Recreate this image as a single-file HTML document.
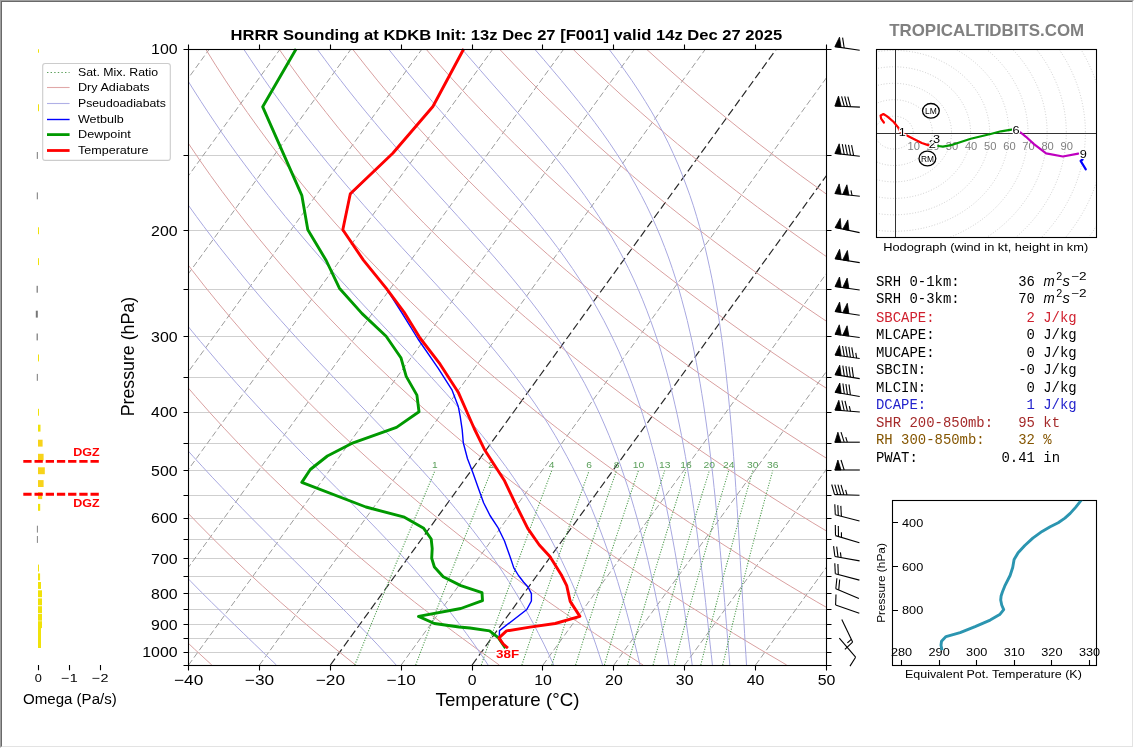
<!DOCTYPE html>
<html><head><meta charset="utf-8"><style>
html,body{margin:0;padding:0;background:#fff;}
#wrap{position:relative;width:1134px;height:748px;overflow:hidden;}
#b1{position:absolute;left:0;top:0;width:1132px;height:746px;border-style:solid;border-width:1px;border-color:#a0a0a0 #ffffff #ffffff #a0a0a0;}
#b2{position:absolute;left:1px;top:1px;width:1130px;height:744px;border-style:solid;border-width:1px;border-color:#696969 #e3e3e3 #e3e3e3 #696969;}
</style></head><body><div id="wrap"><div id="b1"></div><div id="b2"></div>
<svg width="1134" height="748" viewBox="0 0 1134 748" style="position:absolute;left:0;top:0;will-change:transform">
<defs><clipPath id="cm"><rect x="188.6" y="49.3" width="637.9" height="615.7"/></clipPath>
<clipPath id="ch"><rect x="876.3" y="49.5" width="220.3" height="187.7"/></clipPath>
<clipPath id="co"><rect x="0" y="49.3" width="180" height="615.7"/></clipPath><clipPath id="ct"><rect x="892.3" y="500.7" width="204.3" height="164.4"/></clipPath></defs>
<g clip-path="url(#cm)" fill="none">
<path d="M188.6 49.5H826.5M188.6 155.5H826.5M188.6 230.5H826.5M188.6 289.5H826.5M188.6 336.5H826.5M188.6 377.5H826.5M188.6 412.5H826.5M188.6 443.5H826.5M188.6 470.5H826.5M188.6 495.5H826.5M188.6 518.5H826.5M188.6 539.5H826.5M188.6 558.5H826.5M188.6 576.5H826.5M188.6 593.5H826.5M188.6 609.5H826.5M188.6 624.5H826.5M188.6 638.5H826.5M188.6 652.5H826.5M188.6 665.5H826.5" stroke="#cfcfcf" stroke-width="1"/>
<path d="M-520.2 665L-74.3 49.3M-449.3 665L-3.5 49.3M-378.4 665L67.4 49.3M-307.5 665L138.3 49.3M-236.7 665L209.2 49.3M-165.8 665L280 49.3M-94.9 665L350.9 49.3M-24 665L421.8 49.3M46.8 665L492.7 49.3M117.7 665L563.6 49.3M188.6 665L634.4 49.3M259.5 665L705.3 49.3M401.2 665L847.1 49.3M543 665L988.8 49.3M613.9 665L1059.7 49.3M684.7 665L1130.6 49.3M755.6 665L1201.5 49.3M826.5 665L1272.3 49.3" stroke="#9c9c9c" stroke-width="1" stroke-dasharray="6.2,2.9"/>
<path d="M330.4 665L776.2 49.3M472.1 665L917.9 49.3" stroke="#2a2a2a" stroke-width="1.2" stroke-dasharray="7.9,3.6"/>
<path d="M211.8 665 L194.6 649.2 L177.9 633.4 L161.8 617.6 L146 601.9 L130.8 586.1 L116 570.3 L101.6 554.5 L87.7 538.7 L74.2 522.9 L61.2 507.1 L48.5 491.3 L36.3 475.6 L24.5 459.8 L13.1 444 L2 428.2 L-8.6 412.4 L-18.9 396.6 L-28.8 380.8 L-38.4 365 L-47.5 349.3 L-56.4 333.5 L-64.9 317.7 L-73 301.9 L-80.8 286.1 L-88.3 270.3 L-95.5 254.5 L-102.3 238.7 L-108.8 223 L-115.1 207.2 L-121 191.4 L-126.6 175.6 L-132 159.8 L-137 144 L-141.8 128.2 L-146.3 112.4 L-150.5 96.7 L-154.5 80.9 L-158.2 65.1 L-161.6 49.3M355.5 665 L335.9 649.2 L316.8 633.4 L298.3 617.6 L280.2 601.9 L262.7 586.1 L245.6 570.3 L229.1 554.5 L213 538.7 L197.4 522.9 L182.2 507.1 L167.5 491.3 L153.2 475.6 L139.4 459.8 L126 444 L113.1 428.2 L100.5 412.4 L88.4 396.6 L76.6 380.8 L65.3 365 L54.3 349.3 L43.8 333.5 L33.6 317.7 L23.8 301.9 L14.3 286.1 L5.2 270.3 L-3.6 254.5 L-12 238.7 L-20.1 223 L-27.8 207.2 L-35.2 191.4 L-42.3 175.6 L-49.1 159.8 L-55.6 144 L-61.7 128.2 L-67.6 112.4 L-73.1 96.7 L-78.4 80.9 L-83.4 65.1 L-88.1 49.3M499.3 665 L477.2 649.2 L455.7 633.4 L434.8 617.6 L414.4 601.9 L394.6 586.1 L375.3 570.3 L356.5 554.5 L338.2 538.7 L320.5 522.9 L303.2 507.1 L286.4 491.3 L270.2 475.6 L254.3 459.8 L239 444 L224.1 428.2 L209.7 412.4 L195.7 396.6 L182.1 380.8 L169 365 L156.2 349.3 L143.9 333.5 L132 317.7 L120.5 301.9 L109.4 286.1 L98.7 270.3 L88.3 254.5 L78.3 238.7 L68.7 223 L59.5 207.2 L50.6 191.4 L42 175.6 L33.8 159.8 L25.9 144 L18.4 128.2 L11.1 112.4 L4.2 96.7 L-2.4 80.9 L-8.7 65.1 L-14.6 49.3M643 665 L618.5 649.2 L594.6 633.4 L571.3 617.6 L548.6 601.9 L526.5 586.1 L504.9 570.3 L483.9 554.5 L463.5 538.7 L443.6 522.9 L424.2 507.1 L405.4 491.3 L387.1 475.6 L369.3 459.8 L352 444 L335.1 428.2 L318.8 412.4 L302.9 396.6 L287.5 380.8 L272.6 365 L258.1 349.3 L244.1 333.5 L230.5 317.7 L217.3 301.9 L204.5 286.1 L192.2 270.3 L180.2 254.5 L168.7 238.7 L157.5 223 L146.7 207.2 L136.3 191.4 L126.3 175.6 L116.7 159.8 L107.4 144 L98.4 128.2 L89.8 112.4 L81.6 96.7 L73.7 80.9 L66.1 65.1 L58.8 49.3M786.7 665 L759.8 649.2 L733.5 633.4 L707.8 617.6 L682.8 601.9 L658.3 586.1 L634.5 570.3 L611.3 554.5 L588.7 538.7 L566.7 522.9 L545.3 507.1 L524.4 491.3 L504 475.6 L484.2 459.8 L464.9 444 L446.2 428.2 L428 412.4 L410.2 396.6 L393 380.8 L376.3 365 L360 349.3 L344.2 333.5 L328.9 317.7 L314 301.9 L299.6 286.1 L285.6 270.3 L272.1 254.5 L259 238.7 L246.3 223 L234 207.2 L222.1 191.4 L210.6 175.6 L199.5 159.8 L188.8 144 L178.5 128.2 L168.5 112.4 L159 96.7 L149.7 80.9 L140.8 65.1 L132.3 49.3M930.5 665 L901.1 649.2 L872.3 633.4 L844.3 617.6 L816.9 601.9 L790.2 586.1 L764.2 570.3 L738.8 554.5 L714 538.7 L689.8 522.9 L666.3 507.1 L643.3 491.3 L620.9 475.6 L599.1 459.8 L577.9 444 L557.2 428.2 L537.1 412.4 L517.5 396.6 L498.5 380.8 L479.9 365 L461.9 349.3 L444.4 333.5 L427.3 317.7 L410.8 301.9 L394.7 286.1 L379.1 270.3 L364 254.5 L349.3 238.7 L335.1 223 L321.3 207.2 L307.9 191.4 L294.9 175.6 L282.4 159.8 L270.3 144 L258.6 128.2 L247.3 112.4 L236.3 96.7 L225.8 80.9 L215.6 65.1 L205.8 49.3M1074.2 665 L1042.4 649.2 L1011.2 633.4 L980.8 617.6 L951.1 601.9 L922.1 586.1 L893.8 570.3 L866.2 554.5 L839.3 538.7 L812.9 522.9 L787.3 507.1 L762.3 491.3 L737.9 475.6 L714.1 459.8 L690.9 444 L668.3 428.2 L646.2 412.4 L624.8 396.6 L603.9 380.8 L583.6 365 L563.8 349.3 L544.5 333.5 L525.8 317.7 L507.6 301.9 L489.8 286.1 L472.6 270.3 L455.9 254.5 L439.6 238.7 L423.8 223 L408.5 207.2 L393.7 191.4 L379.3 175.6 L365.3 159.8 L351.8 144 L338.6 128.2 L326 112.4 L313.7 96.7 L301.8 80.9 L290.3 65.1 L279.2 49.3M1218 665 L1183.7 649.2 L1150.1 633.4 L1117.3 617.6 L1085.3 601.9 L1054 586.1 L1023.5 570.3 L993.6 554.5 L964.5 538.7 L936.1 522.9 L908.3 507.1 L881.2 491.3 L854.8 475.6 L829 459.8 L803.8 444 L779.3 428.2 L755.4 412.4 L732.1 396.6 L709.4 380.8 L687.2 365 L665.7 349.3 L644.7 333.5 L624.2 317.7 L604.3 301.9 L584.9 286.1 L566.1 270.3 L547.8 254.5 L530 238.7 L512.6 223 L495.8 207.2 L479.5 191.4 L463.6 175.6 L448.2 159.8 L433.2 144 L418.7 128.2 L404.7 112.4 L391 96.7 L377.8 80.9 L365.1 65.1 L352.7 49.3M1361.7 665 L1324.9 649.2 L1289 633.4 L1253.8 617.6 L1219.5 601.9 L1185.9 586.1 L1153.1 570.3 L1121.1 554.5 L1089.8 538.7 L1059.2 522.9 L1029.3 507.1 L1000.2 491.3 L971.7 475.6 L943.9 459.8 L916.8 444 L890.4 428.2 L864.5 412.4 L839.4 396.6 L814.8 380.8 L790.9 365 L767.6 349.3 L744.8 333.5 L722.7 317.7 L701.1 301.9 L680.1 286.1 L659.6 270.3 L639.7 254.5 L620.3 238.7 L601.4 223 L583.1 207.2 L565.2 191.4 L547.9 175.6 L531.1 159.8 L514.7 144 L498.8 128.2 L483.4 112.4 L468.4 96.7 L453.9 80.9 L439.8 65.1 L426.2 49.3M1505.5 665 L1466.2 649.2 L1427.9 633.4 L1390.4 617.6 L1353.7 601.9 L1317.8 586.1 L1282.8 570.3 L1248.5 554.5 L1215 538.7 L1182.3 522.9 L1150.3 507.1 L1119.1 491.3 L1088.6 475.6 L1058.9 459.8 L1029.8 444 L1001.4 428.2 L973.7 412.4 L946.7 396.6 L920.3 380.8 L894.5 365 L869.4 349.3 L845 333.5 L821.1 317.7 L797.8 301.9 L775.2 286.1 L753.1 270.3 L731.6 254.5 L710.6 238.7 L690.2 223 L670.3 207.2 L651 191.4 L632.2 175.6 L613.9 159.8 L596.1 144 L578.9 128.2 L562.1 112.4 L545.8 96.7 L529.9 80.9 L514.6 65.1 L499.7 49.3M1649.2 665 L1607.5 649.2 L1566.7 633.4 L1526.9 617.6 L1487.9 601.9 L1449.7 586.1 L1412.4 570.3 L1375.9 554.5 L1340.3 538.7 L1305.4 522.9 L1271.4 507.1 L1238.1 491.3 L1205.6 475.6 L1173.8 459.8 L1142.7 444 L1112.4 428.2 L1082.8 412.4 L1053.9 396.6 L1025.7 380.8 L998.2 365 L971.3 349.3 L945.1 333.5 L919.5 317.7 L894.6 301.9 L870.3 286.1 L846.6 270.3 L823.4 254.5 L800.9 238.7 L779 223 L757.6 207.2 L736.8 191.4 L716.5 175.6 L696.8 159.8 L677.6 144 L658.9 128.2 L640.8 112.4 L623.1 96.7 L606 80.9 L589.3 65.1 L573.1 49.3M1793 665 L1748.8 649.2 L1705.6 633.4 L1663.4 617.6 L1622 601.9 L1581.6 586.1 L1542 570.3 L1503.4 554.5 L1465.5 538.7 L1428.5 522.9 L1392.4 507.1 L1357 491.3 L1322.5 475.6 L1288.7 459.8 L1255.7 444 L1223.5 428.2 L1192 412.4 L1161.2 396.6 L1131.2 380.8 L1101.8 365 L1073.2 349.3 L1045.3 333.5 L1018 317.7 L991.4 301.9 L965.4 286.1 L940 270.3 L915.3 254.5 L891.2 238.7 L867.8 223 L844.9 207.2 L822.6 191.4 L800.8 175.6 L779.7 159.8 L759.1 144 L739 128.2 L719.5 112.4 L700.5 96.7 L682 80.9 L664.1 65.1 L646.6 49.3" stroke="#d9a0a0" stroke-width="1"/>
<path d="M276.4 665 L265.5 654.6 L254.6 644.1 L243.8 633.7 L233 623.3 L222.3 612.8 L211.7 602.4 L201.2 592 L190.9 581.5 L180.6 571.1 L170.6 560.6 L160.7 550.2 L150.9 539.8 L141.3 529.3 L131.9 518.9 L122.7 508.5 L113.6 498 L104.7 487.6 L96 477.2 L87.5 466.7 L79.2 456.3 L71 445.9 L63 435.4 L55.2 425 L47.5 414.5 L40 404.1 L32.7 393.7 L25.6 383.2 L18.6 372.8 L11.8 362.4 L5.1 351.9 L-1.4 341.5 L-7.7 331.1 L-13.9 320.6 L-19.9 310.2 L-25.8 299.8 L-31.5 289.3 L-37.1 278.9 L-42.5 268.4 L-47.8 258 L-52.9 247.6 L-57.9 237.1 L-62.7 226.7 L-67.4 216.3 L-72 205.8 L-76.4 195.4 L-80.7 185 L-84.9 174.5 L-88.9 164.1 L-92.8 153.7 L-96.5 143.2 L-100.2 132.8 L-103.7 122.3 L-107.1 111.9 L-110.3 101.5 L-113.5 91 L-116.5 80.6 L-119.4 70.2 L-122.2 59.7 L-124.8 49.3M396.1 665 L386.7 654.6 L377 644.1 L367.1 633.7 L357 623.3 L346.8 612.8 L336.4 602.4 L326 592 L315.4 581.5 L304.9 571.1 L294.3 560.6 L283.7 550.2 L273.2 539.8 L262.8 529.3 L252.4 518.9 L242.2 508.5 L232.1 498 L222.1 487.6 L212.2 477.2 L202.5 466.7 L193 456.3 L183.6 445.9 L174.4 435.4 L165.4 425 L156.5 414.5 L147.8 404.1 L139.3 393.7 L131 383.2 L122.8 372.8 L114.8 362.4 L107 351.9 L99.4 341.5 L91.9 331.1 L84.6 320.6 L77.5 310.2 L70.5 299.8 L63.7 289.3 L57.1 278.9 L50.6 268.4 L44.2 258 L38.1 247.6 L32.1 237.1 L26.2 226.7 L20.5 216.3 L14.9 205.8 L9.5 195.4 L4.3 185 L-0.8 174.5 L-5.8 164.1 L-10.7 153.7 L-15.3 143.2 L-19.9 132.8 L-24.3 122.3 L-28.6 111.9 L-32.7 101.5 L-36.8 91 L-40.6 80.6 L-44.4 70.2 L-48 59.7 L-51.5 49.3M488.1 665 L481.2 654.6 L474 644.1 L466.5 633.7 L458.8 623.3 L450.7 612.8 L442.4 602.4 L433.8 592 L424.9 581.5 L415.7 571.1 L406.4 560.6 L396.8 550.2 L387 539.8 L377 529.3 L366.9 518.9 L356.7 508.5 L346.5 498 L336.2 487.6 L325.8 477.2 L315.6 466.7 L305.3 456.3 L295.1 445.9 L285.1 435.4 L275.1 425 L265.2 414.5 L255.5 404.1 L246 393.7 L236.5 383.2 L227.3 372.8 L218.2 362.4 L209.3 351.9 L200.5 341.5 L191.9 331.1 L183.5 320.6 L175.3 310.2 L167.2 299.8 L159.3 289.3 L151.6 278.9 L144.1 268.4 L136.7 258 L129.5 247.6 L122.5 237.1 L115.6 226.7 L108.9 216.3 L102.3 205.8 L95.9 195.4 L89.7 185 L83.6 174.5 L77.7 164.1 L71.9 153.7 L66.3 143.2 L60.8 132.8 L55.5 122.3 L50.3 111.9 L45.2 101.5 L40.3 91 L35.6 80.6 L31 70.2 L26.5 59.7 L22.1 49.3M553.7 665 L548.9 654.6 L543.9 644.1 L538.6 633.7 L533.2 623.3 L527.5 612.8 L521.5 602.4 L515.3 592 L508.8 581.5 L502.1 571.1 L495 560.6 L487.7 550.2 L480.1 539.8 L472.1 529.3 L463.9 518.9 L455.4 508.5 L446.6 498 L437.6 487.6 L428.3 477.2 L418.8 466.7 L409.1 456.3 L399.3 445.9 L389.4 435.4 L379.4 425 L369.3 414.5 L359.2 404.1 L349.2 393.7 L339.1 383.2 L329.2 372.8 L319.3 362.4 L309.5 351.9 L299.9 341.5 L290.4 331.1 L281 320.6 L271.8 310.2 L262.7 299.8 L253.8 289.3 L245.1 278.9 L236.6 268.4 L228.2 258 L219.9 247.6 L211.9 237.1 L204 226.7 L196.3 216.3 L188.8 205.8 L181.4 195.4 L174.2 185 L167.2 174.5 L160.3 164.1 L153.6 153.7 L147 143.2 L140.6 132.8 L134.4 122.3 L128.3 111.9 L122.4 101.5 L116.6 91 L111 80.6 L105.6 70.2 L100.2 59.7 L95.1 49.3M602.6 665 L599.2 654.6 L595.7 644.1 L592 633.7 L588.2 623.3 L584.2 612.8 L580.1 602.4 L575.8 592 L571.3 581.5 L566.6 571.1 L561.7 560.6 L556.6 550.2 L551.2 539.8 L545.6 529.3 L539.7 518.9 L533.6 508.5 L527.1 498 L520.3 487.6 L513.3 477.2 L505.9 466.7 L498.2 456.3 L490.3 445.9 L482 435.4 L473.4 425 L464.6 414.5 L455.5 404.1 L446.3 393.7 L436.8 383.2 L427.2 372.8 L417.5 362.4 L407.7 351.9 L397.8 341.5 L388 331.1 L378.1 320.6 L368.3 310.2 L358.6 299.8 L349 289.3 L339.4 278.9 L330 268.4 L320.7 258 L311.6 247.6 L302.6 237.1 L293.8 226.7 L285.1 216.3 L276.6 205.8 L268.3 195.4 L260.2 185 L252.2 174.5 L244.4 164.1 L236.7 153.7 L229.2 143.2 L221.9 132.8 L214.8 122.3 L207.8 111.9 L201 101.5 L194.3 91 L187.8 80.6 L181.5 70.2 L175.3 59.7 L169.3 49.3M640 665 L637.5 654.6 L634.9 644.1 L632.3 633.7 L629.6 623.3 L626.8 612.8 L623.9 602.4 L620.8 592 L617.7 581.5 L614.4 571.1 L611 560.6 L607.5 550.2 L603.8 539.8 L599.9 529.3 L595.8 518.9 L591.6 508.5 L587.1 498 L582.4 487.6 L577.5 477.2 L572.3 466.7 L566.8 456.3 L561.1 445.9 L555.1 435.4 L548.8 425 L542.1 414.5 L535.2 404.1 L527.9 393.7 L520.3 383.2 L512.5 372.8 L504.3 362.4 L495.8 351.9 L487.1 341.5 L478.1 331.1 L469 320.6 L459.6 310.2 L450.2 299.8 L440.6 289.3 L431 278.9 L421.3 268.4 L411.6 258 L402 247.6 L392.4 237.1 L383 226.7 L373.6 216.3 L364.3 205.8 L355.2 195.4 L346.2 185 L337.3 174.5 L328.6 164.1 L320.1 153.7 L311.7 143.2 L303.5 132.8 L295.4 122.3 L287.6 111.9 L279.9 101.5 L272.3 91 L265 80.6 L257.8 70.2 L250.7 59.7 L243.8 49.3M669 665 L667.2 654.6 L665.3 644.1 L663.3 633.7 L661.3 623.3 L659.3 612.8 L657.1 602.4 L655 592 L652.7 581.5 L650.4 571.1 L648 560.6 L645.5 550.2 L642.8 539.8 L640.1 529.3 L637.3 518.9 L634.3 508.5 L631.2 498 L628 487.6 L624.5 477.2 L621 466.7 L617.2 456.3 L613.2 445.9 L609 435.4 L604.6 425 L600 414.5 L595.1 404.1 L589.9 393.7 L584.5 383.2 L578.7 372.8 L572.6 362.4 L566.3 351.9 L559.6 341.5 L552.6 331.1 L545.2 320.6 L537.6 310.2 L529.6 299.8 L521.3 289.3 L512.8 278.9 L504 268.4 L495.1 258 L485.9 247.6 L476.6 237.1 L467.2 226.7 L457.8 216.3 L448.3 205.8 L438.8 195.4 L429.4 185 L420 174.5 L410.7 164.1 L401.5 153.7 L392.4 143.2 L383.4 132.8 L374.6 122.3 L365.9 111.9 L357.4 101.5 L349 91 L340.9 80.6 L332.8 70.2 L325 59.7 L317.3 49.3M692.2 665 L690.8 654.6 L689.3 644.1 L687.8 633.7 L686.3 623.3 L684.8 612.8 L683.2 602.4 L681.6 592 L679.9 581.5 L678.2 571.1 L676.5 560.6 L674.7 550.2 L672.8 539.8 L670.8 529.3 L668.8 518.9 L666.7 508.5 L664.5 498 L662.2 487.6 L659.8 477.2 L657.3 466.7 L654.7 456.3 L651.9 445.9 L649 435.4 L645.9 425 L642.7 414.5 L639.3 404.1 L635.7 393.7 L631.9 383.2 L627.8 372.8 L623.6 362.4 L619.1 351.9 L614.3 341.5 L609.2 331.1 L603.9 320.6 L598.2 310.2 L592.3 299.8 L586 289.3 L579.3 278.9 L572.4 268.4 L565.1 258 L557.5 247.6 L549.6 237.1 L541.3 226.7 L532.9 216.3 L524.2 205.8 L515.3 195.4 L506.2 185 L497 174.5 L487.8 164.1 L478.5 153.7 L469.1 143.2 L459.8 132.8 L450.6 122.3 L441.4 111.9 L432.3 101.5 L423.3 91 L414.4 80.6 L405.7 70.2 L397.1 59.7 L388.7 49.3M712.4 665 L711.3 654.6 L710.1 644.1 L709 633.7 L707.9 623.3 L706.7 612.8 L705.6 602.4 L704.4 592 L703.2 581.5 L701.9 571.1 L700.6 560.6 L699.3 550.2 L698 539.8 L696.6 529.3 L695.2 518.9 L693.7 508.5 L692.2 498 L690.6 487.6 L688.9 477.2 L687.2 466.7 L685.4 456.3 L683.5 445.9 L681.5 435.4 L679.4 425 L677.2 414.5 L674.8 404.1 L672.4 393.7 L669.8 383.2 L667 372.8 L664.1 362.4 L661.1 351.9 L657.8 341.5 L654.3 331.1 L650.6 320.6 L646.7 310.2 L642.6 299.8 L638.2 289.3 L633.5 278.9 L628.5 268.4 L623.2 258 L617.6 247.6 L611.7 237.1 L605.4 226.7 L598.8 216.3 L591.8 205.8 L584.6 195.4 L577 185 L569.1 174.5 L560.9 164.1 L552.4 153.7 L543.8 143.2 L535 132.8 L526 122.3 L516.9 111.9 L507.8 101.5 L498.6 91 L489.4 80.6 L480.3 70.2 L471.2 59.7 L462.2 49.3M729.8 665 L729 654.6 L728.1 644.1 L727.2 633.7 L726.4 623.3 L725.5 612.8 L724.7 602.4 L723.8 592 L722.9 581.5 L722 571.1 L721.1 560.6 L720.2 550.2 L719.2 539.8 L718.3 529.3 L717.3 518.9 L716.2 508.5 L715.2 498 L714.1 487.6 L713 477.2 L711.8 466.7 L710.5 456.3 L709.3 445.9 L707.9 435.4 L706.5 425 L705 414.5 L703.5 404.1 L701.8 393.7 L700.1 383.2 L698.2 372.8 L696.3 362.4 L694.2 351.9 L692.1 341.5 L689.7 331.1 L687.3 320.6 L684.6 310.2 L681.8 299.8 L678.9 289.3 L675.7 278.9 L672.3 268.4 L668.7 258 L664.8 247.6 L660.7 237.1 L656.3 226.7 L651.6 216.3 L646.6 205.8 L641.3 195.4 L635.7 185 L629.7 174.5 L623.4 164.1 L616.7 153.7 L609.7 143.2 L602.4 132.8 L594.7 122.3 L586.8 111.9 L578.6 101.5 L570.1 91 L561.5 80.6 L552.7 70.2 L543.8 59.7 L534.8 49.3M746.5 665 L745.9 654.6 L745.2 644.1 L744.6 633.7 L744 623.3 L743.4 612.8 L742.8 602.4 L742.2 592 L741.5 581.5 L740.9 571.1 L740.3 560.6 L739.7 550.2 L739.1 539.8 L738.5 529.3 L737.8 518.9 L737.2 508.5 L736.5 498 L735.8 487.6 L735.1 477.2 L734.4 466.7 L733.6 456.3 L732.8 445.9 L732 435.4 L731.1 425 L730.2 414.5 L729.2 404.1 L728.2 393.7 L727.1 383.2 L726 372.8 L724.8 362.4 L723.5 351.9 L722.2 341.5 L720.7 331.1 L719.2 320.6 L717.6 310.2 L715.8 299.8 L714 289.3 L712 278.9 L709.8 268.4 L707.5 258 L705.1 247.6 L702.4 237.1 L699.6 226.7 L696.6 216.3 L693.4 205.8 L689.9 195.4 L686.1 185 L682.1 174.5 L677.9 164.1 L673.3 153.7 L668.4 143.2 L663.2 132.8 L657.6 122.3 L651.7 111.9 L645.4 101.5 L638.8 91 L631.9 80.6 L624.6 70.2 L617 59.7 L609.1 49.3" stroke="#a8a8e0" stroke-width="1"/>
<path d="M354.8 665 L360 652.2 L365.4 638.8 L371.1 624.6 L377.2 609.7 L383.7 593.8 L390.6 576.9 L398 558.8 L406.1 539.4 L414.8 518.5 L424.4 495.7 L434.9 470.7M415.7 665 L420.5 652.2 L425.6 638.8 L431 624.6 L436.7 609.7 L442.8 593.8 L449.3 576.9 L456.4 558.8 L464 539.4 L472.2 518.5 L481.3 495.7 L491.2 470.7M481.3 665 L485.7 652.2 L490.4 638.8 L495.4 624.6 L500.7 609.7 L506.4 593.8 L512.5 576.9 L519 558.8 L526.1 539.4 L533.8 518.5 L542.3 495.7 L551.7 470.7M521.9 665 L526.1 652.2 L530.6 638.8 L535.3 624.6 L540.4 609.7 L545.8 593.8 L551.6 576.9 L557.8 558.8 L564.6 539.4 L572 518.5 L580.1 495.7 L589.1 470.7M551.8 665 L555.9 652.2 L560.2 638.8 L564.7 624.6 L569.6 609.7 L574.8 593.8 L580.4 576.9 L586.4 558.8 L592.9 539.4 L600 518.5 L607.8 495.7 L616.5 470.7M575.6 665 L579.6 652.2 L583.7 638.8 L588.1 624.6 L592.8 609.7 L597.8 593.8 L603.3 576.9 L609.1 558.8 L615.4 539.4 L622.3 518.5 L629.9 495.7 L638.4 470.7M604.4 665 L608.1 652.2 L612.1 638.8 L616.3 624.6 L620.8 609.7 L625.6 593.8 L630.8 576.9 L636.4 558.8 L642.5 539.4 L649.2 518.5 L656.5 495.7 L664.7 470.7M627.6 665 L631.2 652.2 L635.1 638.8 L639.1 624.6 L643.5 609.7 L648.1 593.8 L653.2 576.9 L658.6 558.8 L664.5 539.4 L670.9 518.5 L678.1 495.7 L686 470.7M653.1 665 L656.6 652.2 L660.3 638.8 L664.2 624.6 L668.3 609.7 L672.8 593.8 L677.6 576.9 L682.9 558.8 L688.6 539.4 L694.8 518.5 L701.6 495.7 L709.3 470.7M674.4 665 L677.7 652.2 L681.2 638.8 L685 624.6 L689 609.7 L693.3 593.8 L698 576.9 L703.1 558.8 L708.6 539.4 L714.6 518.5 L721.2 495.7 L728.7 470.7M700.8 665 L704 652.2 L707.3 638.8 L710.9 624.6 L714.8 609.7 L718.9 593.8 L723.3 576.9 L728.2 558.8 L733.5 539.4 L739.2 518.5 L745.6 495.7 L752.8 470.7M722.7 665 L725.8 652.2 L729 638.8 L732.4 624.6 L736.1 609.7 L740.1 593.8 L744.4 576.9 L749 558.8 L754.1 539.4 L759.7 518.5 L765.8 495.7 L772.7 470.7" stroke="#4a9a4a" stroke-width="1.1" stroke-dasharray="1.1,1.5"/>
</g>
<text x="434.9" y="468.2" font-family='"Liberation Sans", sans-serif' font-size="9.57" font-weight="normal" fill="#5a9f5a" text-anchor="middle" textLength="5.7" lengthAdjust="spacingAndGlyphs" >1</text>
<text x="491.2" y="468.2" font-family='"Liberation Sans", sans-serif' font-size="9.57" font-weight="normal" fill="#5a9f5a" text-anchor="middle" textLength="5.7" lengthAdjust="spacingAndGlyphs" >2</text>
<text x="551.7" y="468.2" font-family='"Liberation Sans", sans-serif' font-size="9.57" font-weight="normal" fill="#5a9f5a" text-anchor="middle" textLength="5.7" lengthAdjust="spacingAndGlyphs" >4</text>
<text x="589.1" y="468.2" font-family='"Liberation Sans", sans-serif' font-size="9.57" font-weight="normal" fill="#5a9f5a" text-anchor="middle" textLength="5.7" lengthAdjust="spacingAndGlyphs" >6</text>
<text x="616.5" y="468.2" font-family='"Liberation Sans", sans-serif' font-size="9.57" font-weight="normal" fill="#5a9f5a" text-anchor="middle" textLength="5.7" lengthAdjust="spacingAndGlyphs" >8</text>
<text x="638.4" y="468.2" font-family='"Liberation Sans", sans-serif' font-size="9.57" font-weight="normal" fill="#5a9f5a" text-anchor="middle" textLength="11.5" lengthAdjust="spacingAndGlyphs" >10</text>
<text x="664.7" y="468.2" font-family='"Liberation Sans", sans-serif' font-size="9.57" font-weight="normal" fill="#5a9f5a" text-anchor="middle" textLength="11.5" lengthAdjust="spacingAndGlyphs" >13</text>
<text x="686" y="468.2" font-family='"Liberation Sans", sans-serif' font-size="9.57" font-weight="normal" fill="#5a9f5a" text-anchor="middle" textLength="11.5" lengthAdjust="spacingAndGlyphs" >16</text>
<text x="709.3" y="468.2" font-family='"Liberation Sans", sans-serif' font-size="9.57" font-weight="normal" fill="#5a9f5a" text-anchor="middle" textLength="11.5" lengthAdjust="spacingAndGlyphs" >20</text>
<text x="728.7" y="468.2" font-family='"Liberation Sans", sans-serif' font-size="9.57" font-weight="normal" fill="#5a9f5a" text-anchor="middle" textLength="11.5" lengthAdjust="spacingAndGlyphs" >24</text>
<text x="752.8" y="468.2" font-family='"Liberation Sans", sans-serif' font-size="9.57" font-weight="normal" fill="#5a9f5a" text-anchor="middle" textLength="11.5" lengthAdjust="spacingAndGlyphs" >30</text>
<text x="772.7" y="468.2" font-family='"Liberation Sans", sans-serif' font-size="9.57" font-weight="normal" fill="#5a9f5a" text-anchor="middle" textLength="11.5" lengthAdjust="spacingAndGlyphs" >36</text>
<polyline points="463.7,49 432.9,106.5 392.8,153.3 350,194.7 342.8,229.8 363.4,260.1 386.1,288.2 402,313 418,339 438.1,368.2 452.1,390.2 458.2,406.2 460.2,416.3 462.2,429.9 463.3,442.8 467.5,458.8 472.9,472.7 478.2,487.7 483.6,502.7 490,515.5 497.8,527.3 504.5,541 510.6,558.3 513.8,567.9 518.5,575.5 523.5,582 528,587 531.4,593.6 531.4,601 526.8,609.5 499.5,630.6 499.3,636" fill="none" stroke="#0000ff" stroke-width="1.4" stroke-linejoin="round"/>
<polyline points="296.1,49 262.7,106.8 301.8,195.3 307.8,229.8 326.2,260.5 339.4,288.2 362.1,313.6 386.1,336.3 400.9,357.7 406.2,376.4 416.9,395.1 419,411.8 396.5,427.4 353.1,442.8 327.4,456 310.3,469.5 301.8,482.4 365.9,507 404.4,517.2 423.7,528.3 431.2,539 432.2,548.7 431.7,558.2 434.4,567 443.2,576.7 460.8,585.6 482,592.6 482.5,600.6 460.8,608.5 418.5,616.4 434.4,623.5 459.1,627 470,628 489.6,630.9 498.5,637.9 505.5,648.2" fill="none" stroke="#009900" stroke-width="2.9" stroke-linejoin="round"/>
<polyline points="463.7,49 432.9,106.5 392.8,153.3 350.3,193.7 342.8,229.8 363.4,260.1 386.1,288.2 404,312 420,338 440.1,364.2 458.2,392.2 474.2,428.5 484.9,450.3 504.2,480.2 514.9,502.7 527.7,528.3 539.3,545 549.9,556.5 561.4,575 566.7,585.6 570.2,601.4 579.9,616.4 555.2,623.5 529.9,627.1 506.5,630.9 499,637.9 503.2,644 507.9,648.2" fill="none" stroke="#ff0000" stroke-width="2.9" stroke-linejoin="round"/>
<rect x="188.5" y="49.5" width="638" height="616" fill="none" stroke="#000" stroke-width="1.1"/>
<path d="M188.5 665.5v5M188.5 49.5v-5M259.5 665.5v5M259.5 49.5v-5M330.5 665.5v5M330.5 49.5v-5M401.5 665.5v5M401.5 49.5v-5M472.5 665.5v5M472.5 49.5v-5M542.5 665.5v5M542.5 49.5v-5M613.5 665.5v5M613.5 49.5v-5M684.5 665.5v5M684.5 49.5v-5M755.5 665.5v5M755.5 49.5v-5M826.5 665.5v5M826.5 49.5v-5M188.5 49.5h-5M826.5 49.5h5M188.5 155.5h-5M826.5 155.5h5M188.5 230.5h-5M826.5 230.5h5M188.5 289.5h-5M826.5 289.5h5M188.5 336.5h-5M826.5 336.5h5M188.5 377.5h-5M826.5 377.5h5M188.5 412.5h-5M826.5 412.5h5M188.5 443.5h-5M826.5 443.5h5M188.5 470.5h-5M826.5 470.5h5M188.5 495.5h-5M826.5 495.5h5M188.5 518.5h-5M826.5 518.5h5M188.5 539.5h-5M826.5 539.5h5M188.5 558.5h-5M826.5 558.5h5M188.5 576.5h-5M826.5 576.5h5M188.5 593.5h-5M826.5 593.5h5M188.5 609.5h-5M826.5 609.5h5M188.5 624.5h-5M826.5 624.5h5M188.5 638.5h-5M826.5 638.5h5M188.5 652.5h-5M826.5 652.5h5M188.5 665.5h-5M826.5 665.5h5" stroke="#000" stroke-width="1.1"/>
<text x="188.6" y="684.9" font-family='"Liberation Sans", sans-serif' font-size="14.72" font-weight="normal" fill="#000" text-anchor="middle" textLength="29.3" lengthAdjust="spacingAndGlyphs" >−40</text>
<text x="259.5" y="684.9" font-family='"Liberation Sans", sans-serif' font-size="14.72" font-weight="normal" fill="#000" text-anchor="middle" textLength="29.3" lengthAdjust="spacingAndGlyphs" >−30</text>
<text x="330.4" y="684.9" font-family='"Liberation Sans", sans-serif' font-size="14.72" font-weight="normal" fill="#000" text-anchor="middle" textLength="29.3" lengthAdjust="spacingAndGlyphs" >−20</text>
<text x="401.2" y="684.9" font-family='"Liberation Sans", sans-serif' font-size="14.72" font-weight="normal" fill="#000" text-anchor="middle" textLength="29.3" lengthAdjust="spacingAndGlyphs" >−10</text>
<text x="472.1" y="684.9" font-family='"Liberation Sans", sans-serif' font-size="14.72" font-weight="normal" fill="#000" text-anchor="middle" textLength="8.8" lengthAdjust="spacingAndGlyphs" >0</text>
<text x="543" y="684.9" font-family='"Liberation Sans", sans-serif' font-size="14.72" font-weight="normal" fill="#000" text-anchor="middle" textLength="17.7" lengthAdjust="spacingAndGlyphs" >10</text>
<text x="613.9" y="684.9" font-family='"Liberation Sans", sans-serif' font-size="14.72" font-weight="normal" fill="#000" text-anchor="middle" textLength="17.7" lengthAdjust="spacingAndGlyphs" >20</text>
<text x="684.7" y="684.9" font-family='"Liberation Sans", sans-serif' font-size="14.72" font-weight="normal" fill="#000" text-anchor="middle" textLength="17.7" lengthAdjust="spacingAndGlyphs" >30</text>
<text x="755.6" y="684.9" font-family='"Liberation Sans", sans-serif' font-size="14.72" font-weight="normal" fill="#000" text-anchor="middle" textLength="17.7" lengthAdjust="spacingAndGlyphs" >40</text>
<text x="826.5" y="684.9" font-family='"Liberation Sans", sans-serif' font-size="14.72" font-weight="normal" fill="#000" text-anchor="middle" textLength="17.7" lengthAdjust="spacingAndGlyphs" >50</text>
<text x="177.6" y="54.2" font-family='"Liberation Sans", sans-serif' font-size="14.72" font-weight="normal" fill="#000" text-anchor="end" textLength="26.5" lengthAdjust="spacingAndGlyphs" >100</text>
<text x="177.6" y="235.7" font-family='"Liberation Sans", sans-serif' font-size="14.72" font-weight="normal" fill="#000" text-anchor="end" textLength="26.5" lengthAdjust="spacingAndGlyphs" >200</text>
<text x="177.6" y="341.9" font-family='"Liberation Sans", sans-serif' font-size="14.72" font-weight="normal" fill="#000" text-anchor="end" textLength="26.5" lengthAdjust="spacingAndGlyphs" >300</text>
<text x="177.6" y="417.2" font-family='"Liberation Sans", sans-serif' font-size="14.72" font-weight="normal" fill="#000" text-anchor="end" textLength="26.5" lengthAdjust="spacingAndGlyphs" >400</text>
<text x="177.6" y="475.6" font-family='"Liberation Sans", sans-serif' font-size="14.72" font-weight="normal" fill="#000" text-anchor="end" textLength="26.5" lengthAdjust="spacingAndGlyphs" >500</text>
<text x="177.6" y="523.4" font-family='"Liberation Sans", sans-serif' font-size="14.72" font-weight="normal" fill="#000" text-anchor="end" textLength="26.5" lengthAdjust="spacingAndGlyphs" >600</text>
<text x="177.6" y="563.7" font-family='"Liberation Sans", sans-serif' font-size="14.72" font-weight="normal" fill="#000" text-anchor="end" textLength="26.5" lengthAdjust="spacingAndGlyphs" >700</text>
<text x="177.6" y="598.7" font-family='"Liberation Sans", sans-serif' font-size="14.72" font-weight="normal" fill="#000" text-anchor="end" textLength="26.5" lengthAdjust="spacingAndGlyphs" >800</text>
<text x="177.6" y="629.5" font-family='"Liberation Sans", sans-serif' font-size="14.72" font-weight="normal" fill="#000" text-anchor="end" textLength="26.5" lengthAdjust="spacingAndGlyphs" >900</text>
<text x="177.6" y="657.1" font-family='"Liberation Sans", sans-serif' font-size="14.72" font-weight="normal" fill="#000" text-anchor="end" textLength="35.3" lengthAdjust="spacingAndGlyphs" >1000</text>
<text x="507.5" y="705.6" font-family='"Liberation Sans", sans-serif' font-size="17.67" font-weight="normal" fill="#000" text-anchor="middle" textLength="143.8" lengthAdjust="spacingAndGlyphs" >Temperature (°C)</text>
<text x="133.7" y="356.6" font-family='"Liberation Sans", sans-serif' font-size="17.67" font-weight="normal" fill="#000" text-anchor="middle" textLength="119.5" lengthAdjust="spacingAndGlyphs" transform="rotate(-90 133.7 356.6)">Pressure (hPa)</text>
<text x="506.4" y="39.6" font-family='"Liberation Sans", sans-serif' font-size="14.72" font-weight="bold" fill="#000" text-anchor="middle" textLength="551.6" lengthAdjust="spacingAndGlyphs" >HRRR Sounding at KDKB Init: 13z Dec 27 [F001] valid 14z Dec 27 2025</text>
<text x="986.7" y="35.8" font-family='"Liberation Sans", sans-serif' font-size="16.19" font-weight="bold" fill="#808080" text-anchor="middle" textLength="195.0" lengthAdjust="spacingAndGlyphs" >TROPICALTIDBITS.COM</text>
<rect x="495.3" y="649" width="23.3" height="10" fill="#fff"/>
<text x="507.6" y="657.9" font-family='"Liberation Sans", sans-serif' font-size="11.78" font-weight="bold" fill="#ff0000" text-anchor="middle" textLength="23.1" lengthAdjust="spacingAndGlyphs" >38F</text>
<rect x="42.7" y="63.5" width="127.6" height="96.9" rx="2.5" fill="#fff" fill-opacity="0.8" stroke="#cccccc" stroke-width="1.1"/>
<path d="M47 72.5H69.6" stroke="#5a9f5a" stroke-width="1.1" stroke-dasharray="1.4,2.2"/>
<text x="78" y="76" font-family='"Liberation Sans", sans-serif' font-size="11.78" font-weight="normal" fill="#000" text-anchor="start" textLength="80.1" lengthAdjust="spacingAndGlyphs" >Sat. Mix. Ratio</text>
<path d="M47 87.5H69.6" stroke="#e0a8a8" stroke-width="1.1" />
<text x="78" y="90.9" font-family='"Liberation Sans", sans-serif' font-size="11.78" font-weight="normal" fill="#000" text-anchor="start" textLength="71.6" lengthAdjust="spacingAndGlyphs" >Dry Adiabats</text>
<path d="M47 103.5H69.6" stroke="#b0b0e6" stroke-width="1.1" />
<text x="78" y="106.8" font-family='"Liberation Sans", sans-serif' font-size="11.78" font-weight="normal" fill="#000" text-anchor="start" textLength="87.8" lengthAdjust="spacingAndGlyphs" >Pseudoadiabats</text>
<path d="M47 119.5H69.6" stroke="#0000ff" stroke-width="1.4" />
<text x="78" y="122.8" font-family='"Liberation Sans", sans-serif' font-size="11.78" font-weight="normal" fill="#000" text-anchor="start" textLength="45.8" lengthAdjust="spacingAndGlyphs" >Wetbulb</text>
<path d="M47 134.6H69.6" stroke="#009900" stroke-width="2.8" />
<text x="78" y="138" font-family='"Liberation Sans", sans-serif' font-size="11.78" font-weight="normal" fill="#000" text-anchor="start" textLength="52.8" lengthAdjust="spacingAndGlyphs" >Dewpoint</text>
<path d="M47 150.5H69.6" stroke="#ff0000" stroke-width="2.8" />
<text x="78" y="154" font-family='"Liberation Sans", sans-serif' font-size="11.78" font-weight="normal" fill="#000" text-anchor="start" textLength="70.4" lengthAdjust="spacingAndGlyphs" >Temperature</text>
<g clip-path="url(#co)">
<rect x="38" y="45.8" width="1" height="6.9" fill="#f0e20a"/>
<rect x="38" y="104.3" width="1" height="6.9" fill="#f0e20a"/>
<rect x="36.8" y="152" width="1" height="6.9" fill="#777777"/>
<rect x="36.8" y="192.4" width="1" height="6.9" fill="#777777"/>
<rect x="38" y="227.3" width="1" height="6.9" fill="#f0e20a"/>
<rect x="38" y="258.2" width="1" height="6.9" fill="#f0e20a"/>
<rect x="36.6" y="285.8" width="1.2" height="6.9" fill="#777777"/>
<rect x="35.8" y="310.7" width="2" height="6.9" fill="#777777"/>
<rect x="36.6" y="333.5" width="1.2" height="6.9" fill="#777777"/>
<rect x="38" y="354.5" width="1" height="6.9" fill="#f0e20a"/>
<rect x="36.8" y="373.9" width="1" height="6.9" fill="#777777"/>
<rect x="38" y="408.8" width="1" height="6.9" fill="#f0e20a"/>
<rect x="38" y="424.7" width="2.5" height="6.9" fill="#f0e20a"/>
<rect x="38" y="439.7" width="4.6" height="6.9" fill="#f7d31a"/>
<rect x="38" y="453.8" width="5.6" height="6.9" fill="#f7d31a"/>
<rect x="38" y="467.3" width="6.8" height="6.9" fill="#f7d31a"/>
<rect x="38" y="480.1" width="5.6" height="6.9" fill="#f7d31a"/>
<rect x="38" y="492.2" width="4.2" height="6.9" fill="#f7d31a"/>
<rect x="38" y="503.9" width="2.2" height="6.9" fill="#f0e20a"/>
<rect x="36.9" y="525.7" width="0.9" height="6.9" fill="#777777"/>
<rect x="36.9" y="536" width="0.9" height="6.9" fill="#777777"/>
<rect x="38" y="564.6" width="1" height="6.9" fill="#f0e20a"/>
<rect x="38" y="573.4" width="2.1" height="6.9" fill="#f0e20a"/>
<rect x="38" y="582" width="3" height="6.9" fill="#f0e20a"/>
<rect x="38" y="590.3" width="4" height="6.9" fill="#f0e20a"/>
<rect x="38" y="598.4" width="4" height="6.9" fill="#f0e20a"/>
<rect x="38" y="606.2" width="4" height="6.9" fill="#f0e20a"/>
<rect x="38" y="613.8" width="4" height="6.9" fill="#f0e20a"/>
<rect x="38" y="621.2" width="4" height="6.9" fill="#f0e20a"/>
<rect x="38" y="628" width="3" height="20" fill="#f0e20a"/>
</g>
<path d="M23.3 461.4H99M23.3 494.2H99" stroke="#ff0000" stroke-width="2.9" stroke-dasharray="8.3,2.9"/>
<text x="99.6" y="456.2" font-family='"Liberation Sans", sans-serif' font-size="11.78" font-weight="bold" fill="#ff0000" text-anchor="end" textLength="26.4" lengthAdjust="spacingAndGlyphs" >DGZ</text>
<text x="99.6" y="506.8" font-family='"Liberation Sans", sans-serif' font-size="11.78" font-weight="bold" fill="#ff0000" text-anchor="end" textLength="26.4" lengthAdjust="spacingAndGlyphs" >DGZ</text>
<path d="M38.5 665v5.3M69.5 665v5.3M100.5 665v5.3" stroke="#000" stroke-width="1.1"/>
<text x="38.4" y="682.2" font-family='"Liberation Sans", sans-serif' font-size="11.78" font-weight="normal" fill="#000" text-anchor="middle" textLength="7.1" lengthAdjust="spacingAndGlyphs" >0</text>
<text x="69.5" y="682.2" font-family='"Liberation Sans", sans-serif' font-size="11.78" font-weight="normal" fill="#000" text-anchor="middle" textLength="16.4" lengthAdjust="spacingAndGlyphs" >−1</text>
<text x="100.2" y="682.2" font-family='"Liberation Sans", sans-serif' font-size="11.78" font-weight="normal" fill="#000" text-anchor="middle" textLength="16.4" lengthAdjust="spacingAndGlyphs" >−2</text>
<text x="69.9" y="703.5" font-family='"Liberation Sans", sans-serif' font-size="14.72" font-weight="normal" fill="#000" text-anchor="middle" textLength="93.8" lengthAdjust="spacingAndGlyphs" >Omega (Pa/s)</text>
<path d="M859.7 50.3L834.9 46.6" stroke="#000" stroke-width="1.1" fill="none"/><path d="M844.2 48L842.6 37.6" stroke="#000" stroke-width="1.1" fill="none"/><polygon points="834.9,46.6 839.5,37.2 841.1,47.5" fill="#000" stroke="#000" stroke-width="0.8" stroke-linejoin="miter"/>
<path d="M859.9 107.1L834.9 106" stroke="#000" stroke-width="1.1" fill="none"/><path d="M844.3 106.4L841.6 96.3" stroke="#000" stroke-width="1.1" fill="none"/><path d="M847.4 106.5L844.7 96.4" stroke="#000" stroke-width="1.1" fill="none"/><path d="M850.5 106.7L847.8 96.6" stroke="#000" stroke-width="1.1" fill="none"/><polygon points="834.9,106 838.5,96.1 841.2,106.3" fill="#000" stroke="#000" stroke-width="0.8" stroke-linejoin="miter"/>
<path d="M859.8 156.2L834.9 153.4" stroke="#000" stroke-width="1.1" fill="none"/><path d="M844.2 154.4L842.3 144.2" stroke="#000" stroke-width="1.1" fill="none"/><path d="M847.4 154.8L845.4 144.5" stroke="#000" stroke-width="1.1" fill="none"/><path d="M850.5 155.2L848.5 144.9" stroke="#000" stroke-width="1.1" fill="none"/><path d="M853.6 155.5L851.6 145.2" stroke="#000" stroke-width="1.1" fill="none"/><polygon points="834.9,153.4 839.2,143.8 841.1,154.1" fill="#000" stroke="#000" stroke-width="0.8" stroke-linejoin="miter"/>
<path d="M859.8 196.3L834.9 193.5" stroke="#000" stroke-width="1.1" fill="none"/><path d="M852 195.4L851 190.3" stroke="#000" stroke-width="1.1" fill="none"/><polygon points="834.9,193.5 839.2,183.9 841.1,194.2" fill="#000" stroke="#000" stroke-width="0.8" stroke-linejoin="miter"/><polygon points="842.7,194.4 846.9,184.8 848.9,195.1" fill="#000" stroke="#000" stroke-width="0.8" stroke-linejoin="miter"/>
<path d="M859.6 232.6L835.1 227.5" stroke="#000" stroke-width="1.1" fill="none"/><polygon points="835.1,227.5 840.2,218.4 841.2,228.8" fill="#000" stroke="#000" stroke-width="0.8" stroke-linejoin="miter"/><polygon points="842.8,229.1 847.8,219.9 848.9,230.4" fill="#000" stroke="#000" stroke-width="0.8" stroke-linejoin="miter"/>
<path d="M859.7 262.6L835 258.7" stroke="#000" stroke-width="1.1" fill="none"/><polygon points="835,258.7 839.6,249.3 841.2,259.7" fill="#000" stroke="#000" stroke-width="0.8" stroke-linejoin="miter"/><polygon points="842.7,259.9 847.4,250.5 848.9,260.9" fill="#000" stroke="#000" stroke-width="0.8" stroke-linejoin="miter"/>
<path d="M859.7 290L835 286.5" stroke="#000" stroke-width="1.1" fill="none"/><polygon points="835,286.5 839.5,277 841.2,287.4" fill="#000" stroke="#000" stroke-width="0.8" stroke-linejoin="miter"/><polygon points="842.7,287.6 847.2,278.1 848.9,288.5" fill="#000" stroke="#000" stroke-width="0.8" stroke-linejoin="miter"/>
<path d="M859.7 315.3L835 311.5" stroke="#000" stroke-width="1.1" fill="none"/><polygon points="835,311.5 839.6,302.1 841.2,312.4" fill="#000" stroke="#000" stroke-width="0.8" stroke-linejoin="miter"/><polygon points="842.7,312.7 847.3,303.3 848.9,313.6" fill="#000" stroke="#000" stroke-width="0.8" stroke-linejoin="miter"/>
<path d="M859.7 337.5L835 334.3" stroke="#000" stroke-width="1.1" fill="none"/><polygon points="835,334.3 839.3,324.8 841.2,335.1" fill="#000" stroke="#000" stroke-width="0.8" stroke-linejoin="miter"/><polygon points="842.7,335.3 847.1,325.8 848.9,336.1" fill="#000" stroke="#000" stroke-width="0.8" stroke-linejoin="miter"/>
<path d="M859.7 358.5L835 355" stroke="#000" stroke-width="1.1" fill="none"/><path d="M844.3 356.3L842.6 346" stroke="#000" stroke-width="1.1" fill="none"/><path d="M847.4 356.8L845.7 346.4" stroke="#000" stroke-width="1.1" fill="none"/><path d="M850.4 357.2L848.8 346.8" stroke="#000" stroke-width="1.1" fill="none"/><path d="M853.5 357.6L851.8 347.3" stroke="#000" stroke-width="1.1" fill="none"/><path d="M856.6 358.1L855.8 352.9" stroke="#000" stroke-width="1.1" fill="none"/><polygon points="835,355 839.5,345.5 841.2,355.9" fill="#000" stroke="#000" stroke-width="0.8" stroke-linejoin="miter"/>
<path d="M859.7 378.6L835 374.6" stroke="#000" stroke-width="1.1" fill="none"/><path d="M844.3 376.1L842.8 365.7" stroke="#000" stroke-width="1.1" fill="none"/><path d="M847.4 376.6L845.9 366.2" stroke="#000" stroke-width="1.1" fill="none"/><path d="M850.4 377.1L848.9 366.7" stroke="#000" stroke-width="1.1" fill="none"/><path d="M853.5 377.6L852 367.2" stroke="#000" stroke-width="1.1" fill="none"/><polygon points="835,374.6 839.7,365.2 841.2,375.6" fill="#000" stroke="#000" stroke-width="0.8" stroke-linejoin="miter"/>
<path d="M859.7 396.5L835 392.3" stroke="#000" stroke-width="1.1" fill="none"/><path d="M844.3 393.9L842.9 383.5" stroke="#000" stroke-width="1.1" fill="none"/><path d="M847.4 394.4L845.9 384" stroke="#000" stroke-width="1.1" fill="none"/><path d="M850.4 394.9L849 384.5" stroke="#000" stroke-width="1.1" fill="none"/><polygon points="835,392.3 839.8,383 841.2,393.4" fill="#000" stroke="#000" stroke-width="0.8" stroke-linejoin="miter"/>
<path d="M859.8 412L834.9 410" stroke="#000" stroke-width="1.1" fill="none"/><path d="M844.2 410.7L841.9 400.5" stroke="#000" stroke-width="1.1" fill="none"/><path d="M847.4 411L845 400.8" stroke="#000" stroke-width="1.1" fill="none"/><path d="M850.5 411.3L849.3 406.1" stroke="#000" stroke-width="1.1" fill="none"/><polygon points="834.9,410 838.8,400.3 841.1,410.5" fill="#000" stroke="#000" stroke-width="0.8" stroke-linejoin="miter"/>
<path d="M859.8 442.2L834.8 442.2" stroke="#000" stroke-width="1.1" fill="none"/><path d="M844.2 442.2L841 432.2" stroke="#000" stroke-width="1.1" fill="none"/><path d="M847.3 442.2L845.7 437.2" stroke="#000" stroke-width="1.1" fill="none"/><polygon points="834.8,442.2 837.9,432.2 841,442.2" fill="#000" stroke="#000" stroke-width="0.8" stroke-linejoin="miter"/>
<path d="M859.8 470L834.8 470" stroke="#000" stroke-width="1.1" fill="none"/><path d="M844.2 470L841 460" stroke="#000" stroke-width="1.1" fill="none"/><polygon points="834.8,470 837.9,460 841,470" fill="#000" stroke="#000" stroke-width="0.8" stroke-linejoin="miter"/>
<path d="M859.5 495.2L834.6 494.6" stroke="#000" stroke-width="1.1" fill="none"/><path d="M834.6 494.6L831.7 484.5" stroke="#000" stroke-width="1.1" fill="none"/><path d="M837.7 494.7L834.8 484.6" stroke="#000" stroke-width="1.1" fill="none"/><path d="M840.8 494.8L837.9 484.7" stroke="#000" stroke-width="1.1" fill="none"/><path d="M843.9 494.8L841 484.8" stroke="#000" stroke-width="1.1" fill="none"/><path d="M847 494.9L845.6 489.9" stroke="#000" stroke-width="1.1" fill="none"/>
<path d="M859.5 521L835.3 514.8" stroke="#000" stroke-width="1.1" fill="none"/><path d="M835.3 514.8L834.8 504.3" stroke="#000" stroke-width="1.1" fill="none"/><path d="M838.3 515.5L837.8 505.1" stroke="#000" stroke-width="1.1" fill="none"/><path d="M841.4 516.3L840.8 505.9" stroke="#000" stroke-width="1.1" fill="none"/>
<path d="M859.4 542.8L835.5 535.6" stroke="#000" stroke-width="1.1" fill="none"/><path d="M835.5 535.6L835.3 525.1" stroke="#000" stroke-width="1.1" fill="none"/><path d="M838.5 536.5L838.3 526" stroke="#000" stroke-width="1.1" fill="none"/><path d="M841.5 537.4L841.4 532.2" stroke="#000" stroke-width="1.1" fill="none"/>
<path d="M859.6 560.9L834.9 556.5" stroke="#000" stroke-width="1.1" fill="none"/><path d="M834.9 556.5L833.6 546.1" stroke="#000" stroke-width="1.1" fill="none"/><path d="M838 557L836.7 546.6" stroke="#000" stroke-width="1.1" fill="none"/><path d="M841.1 557.6L840.4 552.4" stroke="#000" stroke-width="1.1" fill="none"/>
<path d="M859.4 580.1L835.3 573.7" stroke="#000" stroke-width="1.1" fill="none"/><path d="M835.3 573.7L834.8 563.2" stroke="#000" stroke-width="1.1" fill="none"/><path d="M838.3 574.5L837.9 564" stroke="#000" stroke-width="1.1" fill="none"/>
<path d="M858.9 598.4L835.8 588.7" stroke="#000" stroke-width="1.1" fill="none"/><path d="M835.8 588.7L836.9 578.3" stroke="#000" stroke-width="1.1" fill="none"/><path d="M838.7 589.9L839.7 579.5" stroke="#000" stroke-width="1.1" fill="none"/>
<path d="M859.3 613.3L835.6 605.1" stroke="#000" stroke-width="1.1" fill="none"/><path d="M835.6 605.1L836 594.6" stroke="#000" stroke-width="1.1" fill="none"/>
<path d="M841.8 619.6L852.6 642.1" stroke="#000" stroke-width="1.1" fill="none"/><path d="M852.6 642.1L844.9 649.3" stroke="#000" stroke-width="1.1" fill="none"/><path d="M851.3 639.3L847.4 642.9" stroke="#000" stroke-width="1.1" fill="none"/>
<path d="M839.3 638.2L855.6 657.2" stroke="#000" stroke-width="1.1" fill="none"/><path d="M855.6 657.2L850 666.1" stroke="#000" stroke-width="1.1" fill="none"/>
<g clip-path="url(#ch)">
<ellipse cx="894.1" cy="132.6" rx="19.1" ry="16.4" fill="none" stroke="#bdbdbd" stroke-width="0.8" stroke-dasharray="0.9,1.9"/>
<ellipse cx="894.1" cy="132.6" rx="38.3" ry="32.9" fill="none" stroke="#bdbdbd" stroke-width="0.8" stroke-dasharray="0.9,1.9"/>
<ellipse cx="894.1" cy="132.6" rx="57.4" ry="49.3" fill="none" stroke="#bdbdbd" stroke-width="0.8" stroke-dasharray="0.9,1.9"/>
<ellipse cx="894.1" cy="132.6" rx="76.5" ry="65.8" fill="none" stroke="#bdbdbd" stroke-width="0.8" stroke-dasharray="0.9,1.9"/>
<ellipse cx="894.1" cy="132.6" rx="95.6" ry="82.2" fill="none" stroke="#bdbdbd" stroke-width="0.8" stroke-dasharray="0.9,1.9"/>
<ellipse cx="894.1" cy="132.6" rx="114.8" ry="98.7" fill="none" stroke="#bdbdbd" stroke-width="0.8" stroke-dasharray="0.9,1.9"/>
<ellipse cx="894.1" cy="132.6" rx="133.9" ry="115.1" fill="none" stroke="#bdbdbd" stroke-width="0.8" stroke-dasharray="0.9,1.9"/>
<ellipse cx="894.1" cy="132.6" rx="153" ry="131.6" fill="none" stroke="#bdbdbd" stroke-width="0.8" stroke-dasharray="0.9,1.9"/>
<ellipse cx="894.1" cy="132.6" rx="172.2" ry="148" fill="none" stroke="#bdbdbd" stroke-width="0.8" stroke-dasharray="0.9,1.9"/>
<ellipse cx="894.1" cy="132.6" rx="191.3" ry="164.5" fill="none" stroke="#bdbdbd" stroke-width="0.8" stroke-dasharray="0.9,1.9"/>
<ellipse cx="894.1" cy="132.6" rx="210.4" ry="180.9" fill="none" stroke="#bdbdbd" stroke-width="0.8" stroke-dasharray="0.9,1.9"/>
<ellipse cx="894.1" cy="132.6" rx="229.6" ry="197.4" fill="none" stroke="#bdbdbd" stroke-width="0.8" stroke-dasharray="0.9,1.9"/>
<path d="M895.5 49.5V237.5M876.5 133.5H1096.5" stroke="#333" stroke-width="1"/>
<text x="913.7" y="149.5" font-family='"Liberation Sans", sans-serif' font-size="10.31" font-weight="normal" fill="#808080" text-anchor="middle" textLength="12.4" lengthAdjust="spacingAndGlyphs" >10</text>
<text x="932.9" y="149.5" font-family='"Liberation Sans", sans-serif' font-size="10.31" font-weight="normal" fill="#808080" text-anchor="middle" textLength="12.4" lengthAdjust="spacingAndGlyphs" >20</text>
<text x="952" y="149.5" font-family='"Liberation Sans", sans-serif' font-size="10.31" font-weight="normal" fill="#808080" text-anchor="middle" textLength="12.4" lengthAdjust="spacingAndGlyphs" >30</text>
<text x="971.1" y="149.5" font-family='"Liberation Sans", sans-serif' font-size="10.31" font-weight="normal" fill="#808080" text-anchor="middle" textLength="12.4" lengthAdjust="spacingAndGlyphs" >40</text>
<text x="990.2" y="149.5" font-family='"Liberation Sans", sans-serif' font-size="10.31" font-weight="normal" fill="#808080" text-anchor="middle" textLength="12.4" lengthAdjust="spacingAndGlyphs" >50</text>
<text x="1009.4" y="149.5" font-family='"Liberation Sans", sans-serif' font-size="10.31" font-weight="normal" fill="#808080" text-anchor="middle" textLength="12.4" lengthAdjust="spacingAndGlyphs" >60</text>
<text x="1028.5" y="149.5" font-family='"Liberation Sans", sans-serif' font-size="10.31" font-weight="normal" fill="#808080" text-anchor="middle" textLength="12.4" lengthAdjust="spacingAndGlyphs" >70</text>
<text x="1047.6" y="149.5" font-family='"Liberation Sans", sans-serif' font-size="10.31" font-weight="normal" fill="#808080" text-anchor="middle" textLength="12.4" lengthAdjust="spacingAndGlyphs" >80</text>
<text x="1066.8" y="149.5" font-family='"Liberation Sans", sans-serif' font-size="10.31" font-weight="normal" fill="#808080" text-anchor="middle" textLength="12.4" lengthAdjust="spacingAndGlyphs" >90</text>
<polyline points="883.9,122.5 881.1,118.7 880.6,115.4 883.4,114 887.2,116.4 893.7,122 897.9,127.1 900.3,131.8 905.9,135.1 914.3,139.3 921.8,143 928.8,145.4" fill="none" stroke="#ff0000" stroke-width="2.2" stroke-linejoin="round" stroke-linecap="round"/>
<polyline points="938.2,146 942.9,146.7 950.9,145.2 970.7,138.8 990.6,134 1000.9,131.3 1011.6,129.7" fill="none" stroke="#009900" stroke-width="2.2" stroke-linejoin="round" stroke-linecap="round"/>
<polyline points="1020,132 1026,136.8 1034,144.1 1046.1,153.3 1062.9,156.5 1078.2,153.7" fill="none" stroke="#bf00bf" stroke-width="2.2" stroke-linejoin="round" stroke-linecap="round"/>
<polyline points="1082.6,159.5 1080.6,160.9 1085.8,169.3" fill="none" stroke="#0000ff" stroke-width="2.2" stroke-linejoin="round" stroke-linecap="round"/>
</g>
<rect x="876.5" y="49.5" width="220" height="188" fill="none" stroke="#000" stroke-width="1.1"/>
<text x="902.3" y="135.9" font-family='"Liberation Sans", sans-serif' font-size="11.78" font-weight="normal" fill="#000" text-anchor="middle" textLength="7.1" lengthAdjust="spacingAndGlyphs" stroke="#fff" stroke-width="2.2" paint-order="stroke">1</text>
<text x="932.4" y="147.9" font-family='"Liberation Sans", sans-serif' font-size="11.78" font-weight="normal" fill="#000" text-anchor="middle" textLength="7.1" lengthAdjust="spacingAndGlyphs" stroke="#fff" stroke-width="2.2" paint-order="stroke">2</text>
<text x="936.6" y="143.4" font-family='"Liberation Sans", sans-serif' font-size="11.78" font-weight="normal" fill="#000" text-anchor="middle" textLength="7.1" lengthAdjust="spacingAndGlyphs" stroke="#fff" stroke-width="2.2" paint-order="stroke">3</text>
<text x="1016" y="134" font-family='"Liberation Sans", sans-serif' font-size="11.78" font-weight="normal" fill="#000" text-anchor="middle" textLength="7.1" lengthAdjust="spacingAndGlyphs" stroke="#fff" stroke-width="2.2" paint-order="stroke">6</text>
<text x="1083.4" y="158" font-family='"Liberation Sans", sans-serif' font-size="11.78" font-weight="normal" fill="#000" text-anchor="middle" textLength="7.1" lengthAdjust="spacingAndGlyphs" stroke="#fff" stroke-width="2.2" paint-order="stroke">9</text>
<ellipse cx="930.9" cy="110.8" rx="8.4" ry="7.3" fill="none" stroke="#000" stroke-width="1.3"/>
<ellipse cx="927.4" cy="158.5" rx="8.4" ry="7.3" fill="none" stroke="#000" stroke-width="1.3"/>
<text x="930.9" y="113.8" font-family='"Liberation Sans", sans-serif' font-size="8.83" font-weight="normal" fill="#000" text-anchor="middle" textLength="11.8" lengthAdjust="spacingAndGlyphs" >LM</text>
<text x="927.4" y="161.5" font-family='"Liberation Sans", sans-serif' font-size="8.83" font-weight="normal" fill="#000" text-anchor="middle" textLength="13.0" lengthAdjust="spacingAndGlyphs" >RM</text>
<text x="985.7" y="250.8" font-family='"Liberation Sans", sans-serif' font-size="11.78" font-weight="normal" fill="#000" text-anchor="middle" textLength="204.9" lengthAdjust="spacingAndGlyphs" >Hodograph (wind in kt, height in km)</text>
<text x="876" y="285.8" font-family='"Liberation Mono", monospace' font-size="15.36" font-weight="normal" fill="#000" text-anchor="start" textLength="158.9" lengthAdjust="spacingAndGlyphs" xml:space="preserve">SRH 0-1km:       36</text>
<g fill="#000" font-family='"Liberation Sans", sans-serif' font-style="italic">
<text x="1043.6" y="285.8" font-size="14.7" textLength="11.2" lengthAdjust="spacingAndGlyphs">m</text>
<text x="1056.2" y="279.6" font-size="10.3" textLength="6" lengthAdjust="spacingAndGlyphs" font-style="normal">2</text>
<text x="1062.6" y="285.8" font-size="14.7" textLength="7.4" lengthAdjust="spacingAndGlyphs">s</text>
<text x="1071.0" y="279.6" font-size="10.3" textLength="15.5" lengthAdjust="spacingAndGlyphs" font-style="normal">−2</text>
</g>
<text x="876" y="303" font-family='"Liberation Mono", monospace' font-size="15.36" font-weight="normal" fill="#000" text-anchor="start" textLength="158.9" lengthAdjust="spacingAndGlyphs" xml:space="preserve">SRH 0-3km:       70</text>
<g fill="#000" font-family='"Liberation Sans", sans-serif' font-style="italic">
<text x="1043.6" y="303" font-size="14.7" textLength="11.2" lengthAdjust="spacingAndGlyphs">m</text>
<text x="1056.2" y="296.8" font-size="10.3" textLength="6" lengthAdjust="spacingAndGlyphs" font-style="normal">2</text>
<text x="1062.6" y="303" font-size="14.7" textLength="7.4" lengthAdjust="spacingAndGlyphs">s</text>
<text x="1071.0" y="296.8" font-size="10.3" textLength="15.5" lengthAdjust="spacingAndGlyphs" font-style="normal">−2</text>
</g>
<text x="876" y="321.9" font-family='"Liberation Mono", monospace' font-size="15.36" font-weight="normal" fill="#d0202e" text-anchor="start" textLength="200.7" lengthAdjust="spacingAndGlyphs" xml:space="preserve">SBCAPE:           2 J/kg</text>
<text x="876" y="338.9" font-family='"Liberation Mono", monospace' font-size="15.36" font-weight="normal" fill="#000" text-anchor="start" textLength="200.7" lengthAdjust="spacingAndGlyphs" xml:space="preserve">MLCAPE:           0 J/kg</text>
<text x="876" y="356.8" font-family='"Liberation Mono", monospace' font-size="15.36" font-weight="normal" fill="#000" text-anchor="start" textLength="200.7" lengthAdjust="spacingAndGlyphs" xml:space="preserve">MUCAPE:           0 J/kg</text>
<text x="876" y="373.9" font-family='"Liberation Mono", monospace' font-size="15.36" font-weight="normal" fill="#000" text-anchor="start" textLength="200.7" lengthAdjust="spacingAndGlyphs" xml:space="preserve">SBCIN:           -0 J/kg</text>
<text x="876" y="391.7" font-family='"Liberation Mono", monospace' font-size="15.36" font-weight="normal" fill="#000" text-anchor="start" textLength="200.7" lengthAdjust="spacingAndGlyphs" xml:space="preserve">MLCIN:            0 J/kg</text>
<text x="876" y="408.9" font-family='"Liberation Mono", monospace' font-size="15.36" font-weight="normal" fill="#2222cc" text-anchor="start" textLength="200.7" lengthAdjust="spacingAndGlyphs" xml:space="preserve">DCAPE:            1 J/kg</text>
<text x="876" y="426.7" font-family='"Liberation Mono", monospace' font-size="15.36" font-weight="normal" fill="#a52a2a" text-anchor="start" textLength="184.0" lengthAdjust="spacingAndGlyphs" xml:space="preserve">SHR 200-850mb:   95 kt</text>
<text x="876" y="443.9" font-family='"Liberation Mono", monospace' font-size="15.36" font-weight="normal" fill="#845500" text-anchor="start" textLength="175.6" lengthAdjust="spacingAndGlyphs" xml:space="preserve">RH 300-850mb:    32 %</text>
<text x="876" y="461.8" font-family='"Liberation Mono", monospace' font-size="15.36" font-weight="normal" fill="#000" text-anchor="start" textLength="184.0" lengthAdjust="spacingAndGlyphs" xml:space="preserve">PWAT:          0.41 in</text>
<rect x="892.5" y="500.5" width="204" height="165" fill="none" stroke="#000" stroke-width="1.1"/>
<path d="M892.5 522.5h5.5M892.5 566.5h5.5M892.5 610.5h5.5M901.5 665.5v-5.5M939.5 665.5v-5.5M976.5 665.5v-5.5M1014.5 665.5v-5.5M1051.5 665.5v-5.5M1089.5 665.5v-5.5" stroke="#000" stroke-width="1.1"/>
<text x="902" y="526.6" font-family='"Liberation Sans", sans-serif' font-size="11.78" font-weight="normal" fill="#000" text-anchor="start" textLength="21.2" lengthAdjust="spacingAndGlyphs" >400</text>
<text x="902" y="570.5" font-family='"Liberation Sans", sans-serif' font-size="11.78" font-weight="normal" fill="#000" text-anchor="start" textLength="21.2" lengthAdjust="spacingAndGlyphs" >600</text>
<text x="902" y="614.3" font-family='"Liberation Sans", sans-serif' font-size="11.78" font-weight="normal" fill="#000" text-anchor="start" textLength="21.2" lengthAdjust="spacingAndGlyphs" >800</text>
<text x="901.5" y="656.1" font-family='"Liberation Sans", sans-serif' font-size="11.78" font-weight="normal" fill="#000" text-anchor="middle" textLength="21.2" lengthAdjust="spacingAndGlyphs" >280</text>
<text x="939.1" y="656.1" font-family='"Liberation Sans", sans-serif' font-size="11.78" font-weight="normal" fill="#000" text-anchor="middle" textLength="21.2" lengthAdjust="spacingAndGlyphs" >290</text>
<text x="976.7" y="656.1" font-family='"Liberation Sans", sans-serif' font-size="11.78" font-weight="normal" fill="#000" text-anchor="middle" textLength="21.2" lengthAdjust="spacingAndGlyphs" >300</text>
<text x="1014.3" y="656.1" font-family='"Liberation Sans", sans-serif' font-size="11.78" font-weight="normal" fill="#000" text-anchor="middle" textLength="21.2" lengthAdjust="spacingAndGlyphs" >310</text>
<text x="1051.9" y="656.1" font-family='"Liberation Sans", sans-serif' font-size="11.78" font-weight="normal" fill="#000" text-anchor="middle" textLength="21.2" lengthAdjust="spacingAndGlyphs" >320</text>
<text x="1089.5" y="656.1" font-family='"Liberation Sans", sans-serif' font-size="11.78" font-weight="normal" fill="#000" text-anchor="middle" textLength="21.2" lengthAdjust="spacingAndGlyphs" >330</text>
<text x="993.4" y="677.6" font-family='"Liberation Sans", sans-serif' font-size="11.78" font-weight="normal" fill="#000" text-anchor="middle" textLength="176.8" lengthAdjust="spacingAndGlyphs" >Equivalent Pot. Temperature (K)</text>
<text x="884.5" y="583" font-family='"Liberation Sans", sans-serif' font-size="11.78" font-weight="normal" fill="#000" text-anchor="middle" textLength="79.7" lengthAdjust="spacingAndGlyphs" transform="rotate(-90 884.5 583)">Pressure (hPa)</text>
<g clip-path="url(#ct)"><polyline points="1082.2,499 1080.9,500.7 1075.6,507.4 1070.2,513.4 1064.9,518.1 1058.2,522.7 1050.2,526.7 1042.1,531.4 1032.8,538.1 1024.8,545.5 1018.1,552.8 1014.1,559.5 1012.7,567.5 1010.1,575.5 1004.7,586.2 1002.4,592 1001.1,596 1000.7,600 1001.7,605 1003.7,609.6 999.7,614.6 990.2,620.1 975.1,626.6 960.1,632.6 946,636.6 941.5,641.2 941,645.2 942,650.2" fill="none" stroke="#2b95b0" stroke-width="2.9" stroke-linejoin="round"/></g>
</svg>
</div></body></html>
